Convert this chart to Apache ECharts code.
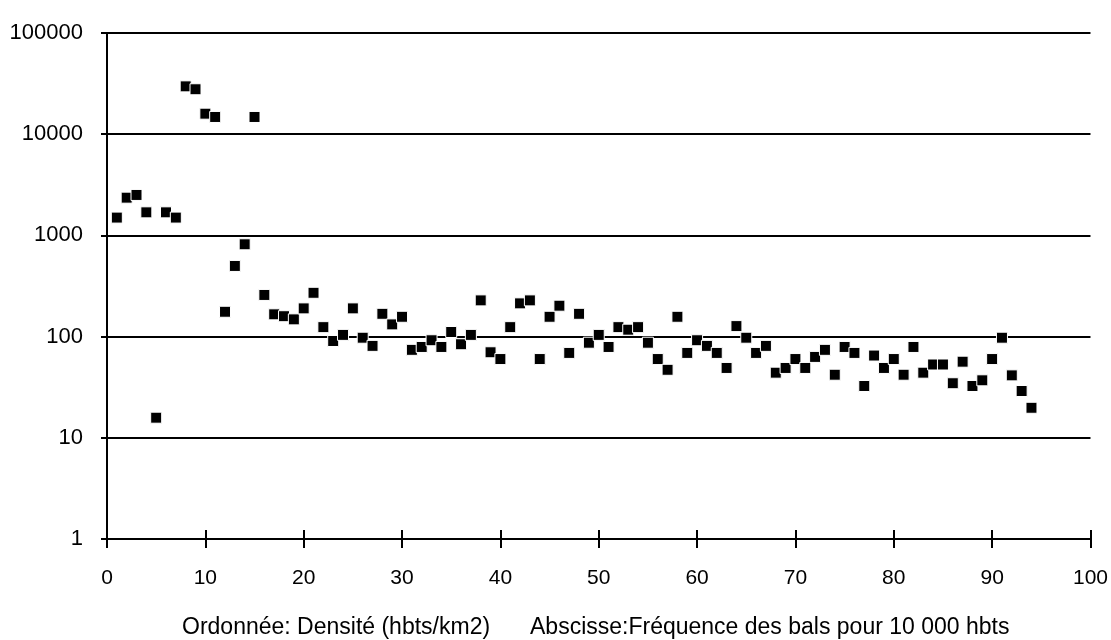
<!DOCTYPE html>
<html>
<head>
<meta charset="utf-8">
<script src="https://cdn.jsdelivr.net/npm/echarts@6/dist/echarts.min.js"></script>
<style>
html,body{margin:0;padding:0;background:#fff;}
#c{width:1111px;height:640px;}
</style>
</head>
<body>
<div id="c"></div>
<script>
// Abscisse: fréquence des bals pour 10 000 hbts
const frequences = [1,2,3,4,5,6,7,8,9,10,11,12,13,14,15,16,17,18,19,20,
  21,22,23,24,25,26,27,28,29,30,31,32,33,34,35,36,37,38,39,40,
  41,42,43,44,45,46,47,48,49,50,51,52,53,54,55,56,57,58,59,60,
  61,62,63,64,65,66,67,68,69,70,71,72,73,74,75,76,77,78,79,80,
  81,82,83,84,85,86,87,88,89,90,91,92,93,94];
// Ordonnée: densité (hbts/km2)
const densites = [1500,2360,2510,1690,15.8,1690,1500,29700,27800,15950,
  14800,176,499,817,14800,258,166,159,148,190,
  271,124,90.5,104,190,97.5,81,168,132,157,
  74,79,92,79,111,84,104,228,70,60,
  124,213,228,60,157,202,69,168,87,104,
  79,124,117,124,87,60,47,157,69,92,
  81,69,49,127,97.5,69,81,44,49,60,
  49,63,74,42,79,69,32.5,65,49,60,
  42,79,44,53,53,34.6,56.5,32.5,37,60,
  97.5,41.4,29,19.8];
const yTicks = [1,10,100,1000,10000,100000];
const xTicks = [0,10,20,30,40,50,60,70,80,90,100];
const texteOrdonnee = 'Ordonnée: Densité (hbts/km2)';
const texteAbscisse = 'Abscisse:Fréquence des bals pour 10 000 hbts';

const points = frequences.map((x, i) => [x, densites[i]]);
const FONT = '"Liberation Sans", Arial, sans-serif';

const chart = echarts.init(document.getElementById('c'), null, {renderer: 'canvas'});
chart.setOption({
  animation: false,
  backgroundColor: '#fff',
  grid: {left: 107, right: 14, top: 33, bottom: 101, containLabel: false},
  xAxis: [{
    type: 'value',
    min: xTicks[0], max: xTicks[xTicks.length - 1], interval: 10,
    axisLine: {show: true, lineStyle: {color: '#000', width: 2}},
    axisTick: {show: true, length: 9, lineStyle: {color: '#000', width: 2}},
    splitLine: {show: false},
    axisLabel: {fontSize: 21, color: '#000', fontFamily: FONT, margin: 29}
  }, {
    type: 'value', position: 'bottom',
    min: xTicks[0], max: xTicks[xTicks.length - 1], interval: 10,
    axisLine: {show: false},
    axisTick: {show: true, inside: true, length: 9, lineStyle: {color: '#000', width: 2}},
    splitLine: {show: false},
    axisLabel: {show: false}
  }],
  yAxis: {
    type: 'log', logBase: 10,
    min: yTicks[0], max: yTicks[yTicks.length - 1],
    axisLine: {show: true, lineStyle: {color: '#000', width: 2}},
    axisTick: {show: true, length: 6, lineStyle: {color: '#000', width: 2}},
    splitLine: {show: true, lineStyle: {color: '#000', width: 2}},
    axisLabel: {fontSize: 22, color: '#000', fontFamily: FONT, margin: 24,
      padding: [0, 0, 4, 0],
      formatter: v => String(Math.round(v))}
  },
  series: [{
    type: 'scatter',
    xAxisIndex: 0,
    data: points,
    symbol: 'rect',
    symbolSize: 11,
    itemStyle: {color: '#000', borderColor: '#fff', borderWidth: 1, opacity: 1}
  }],
  graphic: [
    {type: 'text', left: 182, top: 616, style: {text: texteOrdonnee, font: '23px ' + FONT, fill: '#000'}},
    {type: 'text', left: 530, top: 616, style: {text: texteAbscisse, font: '23px ' + FONT, fill: '#000'}}
  ]
});
</script>
</body>
</html>
